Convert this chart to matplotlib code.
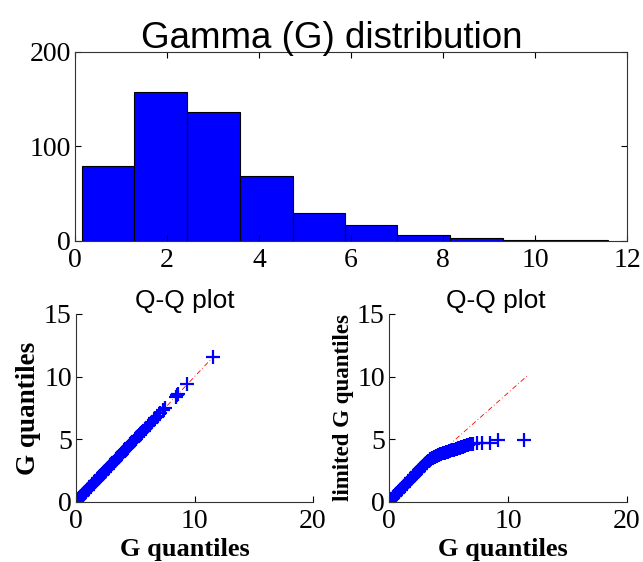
import numpy as np
import matplotlib
matplotlib.use("Agg")
import matplotlib.pyplot as plt

# histogram of the gamma sample (10 bins)
bin_edges = [0.15, 1.29, 2.44, 3.58, 4.73, 5.87, 7.01, 8.16, 9.30, 10.45, 11.59]
bin_counts = [79, 158, 137, 69, 30, 17, 6, 3, 1, 1]

# sorted G quantiles
g_quant = [0.16, 0.22, 0.30, 0.37, 0.44, 0.50, 0.56, 0.62, 0.68, 0.74,
           0.80, 0.86, 0.92, 0.98, 1.04, 1.10, 1.16, 1.22, 1.28, 1.34,
           1.40, 1.46, 1.52, 1.58, 1.64, 1.70, 1.76, 1.82, 1.88, 1.94,
           2.00, 2.06, 2.12, 2.18, 2.24, 2.30, 2.36, 2.42, 2.48, 2.54,
           2.60, 2.66, 2.72, 2.78, 2.84, 2.90, 2.96, 3.02, 3.08, 3.14,
           3.20, 3.27, 3.34, 3.41, 3.48, 3.55, 3.62, 3.69, 3.76, 3.84,
           3.92, 4.00, 4.08, 4.16, 4.24, 4.32, 4.41, 4.50, 4.59, 4.68,
           4.77, 4.86, 4.96, 5.06, 5.16, 5.26, 5.37, 5.48, 5.59, 5.70,
           5.82, 5.94, 6.06, 6.18, 6.30, 6.42, 6.55, 6.68, 6.80, 6.90,
           7.10, 7.30, 7.50, 8.40, 8.50, 8.60, 9.40, 11.55]

# sorted G vs limited G quantiles (right Q-Q plot)
lim_x = [0.16, 0.22, 0.30, 0.37, 0.44, 0.50, 0.56, 0.62, 0.68, 0.74,
         0.80, 0.86, 0.92, 0.98, 1.04, 1.10, 1.16, 1.22, 1.28, 1.34,
         1.40, 1.46, 1.52, 1.58, 1.64, 1.70, 1.76, 1.82, 1.88, 1.94,
         2.00, 2.06, 2.12, 2.18, 2.24, 2.30, 2.36, 2.42, 2.48, 2.54,
         2.60, 2.66, 2.72, 2.78, 2.84, 2.90, 2.96, 3.02, 3.08, 3.14,
         3.20, 3.27, 3.34, 3.41, 3.48, 3.55, 3.62, 3.69, 3.76, 3.84,
         3.92, 4.00, 4.08, 4.16, 4.24, 4.32, 4.41, 4.50, 4.59, 4.68,
         4.77, 4.86, 4.96, 5.06, 5.16, 5.26, 5.37, 5.48, 5.59, 5.70,
         5.82, 5.94, 6.06, 6.18, 6.30, 6.42, 6.55, 6.68, 6.80, 6.92,
         7.10, 7.40, 7.80, 8.50, 9.20, 11.35]
lim_y = [0.16, 0.22, 0.30, 0.37, 0.44, 0.50, 0.56, 0.62, 0.68, 0.74,
         0.80, 0.86, 0.92, 0.98, 1.04, 1.10, 1.16, 1.22, 1.28, 1.34,
         1.40, 1.46, 1.52, 1.58, 1.64, 1.70, 1.76, 1.82, 1.88, 1.94,
         2.00, 2.06, 2.12, 2.18, 2.24, 2.30, 2.36, 2.42, 2.48, 2.54,
         2.60, 2.66, 2.72, 2.78, 2.84, 2.90, 2.96, 3.02, 3.08, 3.14,
         3.20, 3.24, 3.30, 3.35, 3.40, 3.45, 3.50, 3.54, 3.58, 3.62,
         3.66, 3.69, 3.72, 3.75, 3.78, 3.81, 3.84, 3.87, 3.90, 3.93,
         3.96, 3.99, 4.02, 4.05, 4.08, 4.11, 4.14, 4.18, 4.22, 4.26,
         4.30, 4.34, 4.38, 4.42, 4.46, 4.50, 4.54, 4.57, 4.60, 4.62,
         4.65, 4.67, 4.69, 4.72, 4.95, 4.97]

# red reference lines
ref_left_x = [0.16, 11.55]
ref_left_y = [0.16, 11.55]
ref_right_x = [0.16, 11.6]
ref_right_y = [0.43, 10.05]

serif = "Liberation Serif"
sans = "Liberation Sans"

fig = plt.figure(figsize=(6.43, 5.62), dpi=100)

# top histogram
ax = fig.add_axes([0.1166, 0.5712, 0.8585, 0.3363])
widths = np.diff(bin_edges)
ax.bar(bin_edges[:-1], bin_counts, width=widths, align="edge",
       color="#0000ff", edgecolor="black", linewidth=0.8)
ax.set_xlim(0, 12)
ax.set_ylim(0, 200)
ax.set_xticks(range(0, 13, 2))
ax.set_yticks([0, 100, 200])
ax.tick_params(direction="in", length=4, top=True, right=True,
               labelsize=20, pad=3)
ax.tick_params(axis="x", pad=5)
for lab in ax.get_xticklabels() + ax.get_yticklabels():
    lab.set_family(serif)
for s in ax.spines.values():
    s.set_linewidth(0.8)
    s.set_color("#333333")
ax.set_title("Gamma (G) distribution", fontsize=26.5, family=sans,
             pad=3, x=0.466)

def qq_axes(rect, xs, ys, rx, ry, ylab, ylab_size, title_x, xlab_x):
    a = fig.add_axes(rect)
    a.plot(rx, ry, color="red", linestyle=(0, (6, 3, 1, 3)), linewidth=0.6)
    a.plot(xs, ys, linestyle="none", marker="+", markersize=9.5,
           markeredgewidth=1.6, color="#0000ff")
    a.set_xlim(0, 20)
    a.set_ylim(0, 15)
    a.set_xticks([0, 10, 20])
    a.set_yticks([0, 5, 10, 15])
    a.spines["top"].set_visible(False)
    a.spines["right"].set_visible(False)
    for s in ("left", "bottom"):
        a.spines[s].set_linewidth(0.8)
        a.spines[s].set_color("#333333")
    a.tick_params(direction="in", length=4, labelsize=20, pad=3)
    a.tick_params(axis="x", pad=5)
    for lab in a.get_xticklabels() + a.get_yticklabels():
        lab.set_family(serif)
    a.set_title("Q-Q plot", fontsize=19, family=sans, pad=4, x=title_x)
    a.set_xlabel("G quantiles", fontsize=19, family=serif,
                 fontweight="bold")
    a.xaxis.set_label_coords(xlab_x, -0.19)
    a.set_ylabel(ylab, fontsize=ylab_size, family=serif,
                 fontweight="bold", labelpad=2)
    return a

qq_axes([0.1182, 0.1068, 0.3686, 0.3345], g_quant, g_quant,
        ref_left_x, ref_left_y, "G quantiles", 19.5, 0.46, 0.46)
qq_axes([0.6050, 0.1068, 0.3700, 0.3345], lim_x, lim_y,
        ref_right_x, ref_right_y, "limited G quantiles", 16.5, 0.45, 0.48)

fig.savefig("out.png", dpi=100)
